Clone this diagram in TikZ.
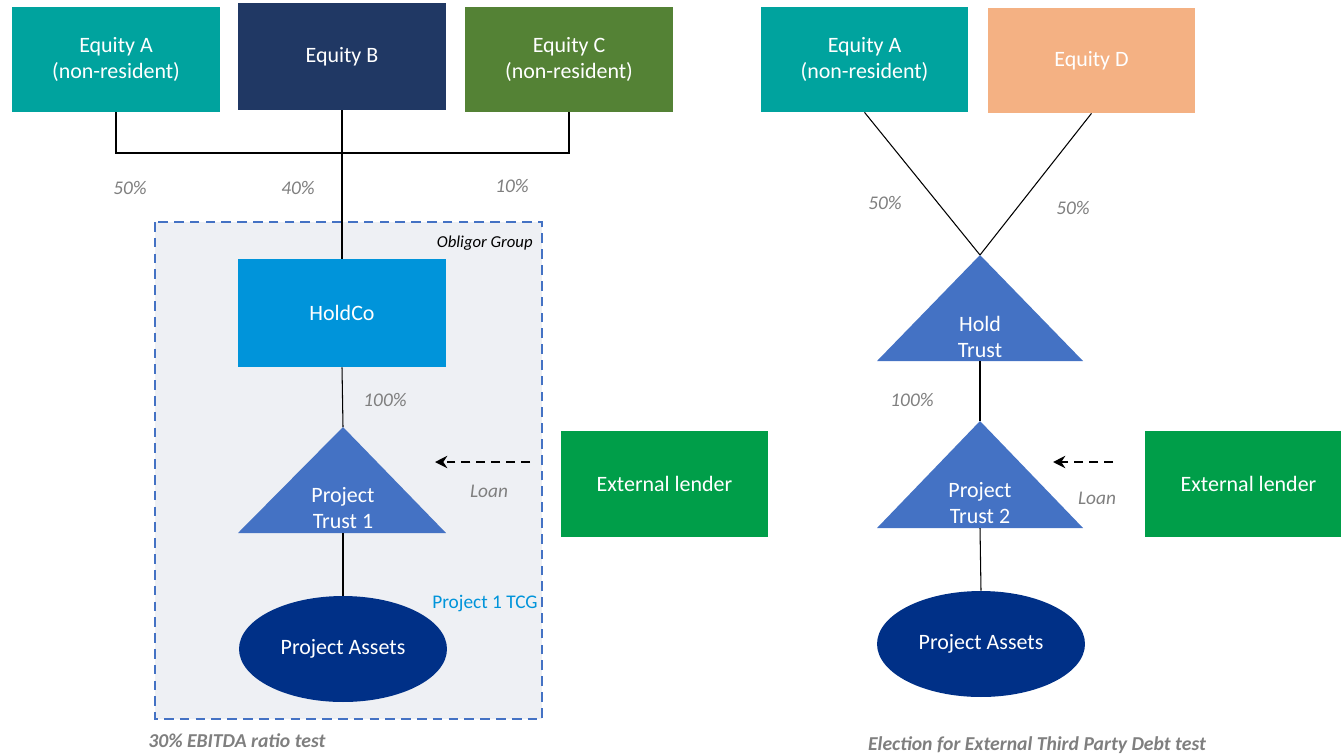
\documentclass[tikz,border=0pt]{standalone}
\usepackage{fontspec}
\setmainfont{Carlito}
\usepackage{tikz}
\usetikzlibrary{arrows.meta,positioning,shapes.geometric,calc}
\definecolor{eqteal}{HTML}{00A39E}
\definecolor{navy}{HTML}{203864}
\definecolor{eqgreen}{HTML}{548235}
\definecolor{peach}{HTML}{F4B183}
\definecolor{holdblue}{HTML}{0094DA}
\definecolor{trustblue}{HTML}{4472C4}
\definecolor{assetblue}{HTML}{003087}
\definecolor{lendgreen}{HTML}{009E49}
\definecolor{groupfill}{HTML}{EEF0F4}
\definecolor{pctgray}{HTML}{7F7F7F}
\begin{document}
\begin{tikzpicture}[x=0.02cm,y=-0.02cm,
  entity/.style={rectangle,inner sep=0pt,minimum width=4.16cm,minimum height=2.12cm,
    align=center,text=white,font=\fontsize{12.5}{15}\selectfont},
  asset/.style={ellipse,inner sep=0pt,minimum width=4.16cm,minimum height=2.12cm,
    fill=assetblue,text=white,font=\fontsize{12.5}{15}\selectfont},
  trilabel/.style={align=center,text=white,font=\fontsize{12.5}{15}\selectfont},
  pct/.style={text=pctgray,font=\fontsize{11}{13}\itshape},
  testlabel/.style={text=pctgray,inner sep=0pt,font=\fontsize{11.2}{13}\bfseries\itshape},
  link/.style={draw=black,line width=0.6pt},
  loan/.style={-{Stealth[length=7pt,width=7pt]},line width=1.1pt,dash pattern=on 5pt off 3.5pt}]
\clip (0,0) rectangle (1341,754);
% obligor group
\draw[fill=groupfill,draw=trustblue,line width=1.4pt,dash pattern=on 5.5pt off 3.5pt] (155,222) rectangle (542,719);
\node[anchor=east,inner sep=0pt,font=\fontsize{9.5}{11}\itshape] (oblig) at (533,243) {Obligor Group};
% left structure
\node[entity,fill=eqteal,minimum height=2.1cm] (eqA) at (116,59.5) {Equity A\\(non-resident)};
\node[entity,fill=navy,minimum height=2.14cm] (eqB) at (342,56.5) {Equity B};
\node[entity,fill=eqgreen,minimum height=2.1cm] (eqC) at (569,59.5) {Equity C\\(non-resident)};
\node[entity,fill=holdblue,minimum height=2.16cm] (hold) at (342,313) {HoldCo};
\fill[trustblue] (238,533) -- (343,427) -- (446,533) -- cycle;
\coordinate (pt1top) at (343,427);
\coordinate (pt1base) at (343,533);
\node[trilabel] (pt1) at (343,508) {Project\\Trust 1};
\node[asset] (pa1) at (343,649) {Project Assets};
\node[entity,fill=lendgreen,minimum width=4.14cm] (lend1) at (664.5,484) {External lender};
\coordinate (bus) at (343,153);
\draw[link] (eqA.south) -- (eqA.south |- bus) -| (eqC.south);
\draw[link] (eqB.south) -- (hold.north);
\draw[link] (hold.south) -- (pt1top);
\draw[link] (pt1base) -- (pa1.north);
\coordinate (loan1a) at (530,462);
\coordinate (loan1b) at (435,462);
\draw[loan] (loan1a) -- (loan1b);
\node[pct] (l1) at (489,491) {Loan};
\node[pct] (p50a) at (130,188) {50\%};
\node[pct] (p40) at (298,188) {40\%};
\node[pct] (p10) at (512,186) {10\%};
\node[pct] (p100a) at (385,400) {100\%};
\node[anchor=east,inner sep=0pt,text=holdblue,font=\fontsize{11}{13}\selectfont] (tcg) at (538,603) {Project 1 TCG};
\node[testlabel,anchor=west] (ebitda) at (148,741) {30\% EBITDA ratio test};
% right structure
\node[entity,fill=eqteal,minimum width=4.14cm,minimum height=2.1cm] (eqA2) at (864.5,59.5) {Equity A\\(non-resident)};
\node[entity,fill=peach,minimum width=4.14cm,minimum height=2.1cm] (eqD) at (1091.5,60.5) {Equity D};
\fill[trustblue] (877,361) -- (980,255) -- (1083,361) -- cycle;
\coordinate (httop) at (980,255);
\coordinate (htbase) at (980,361);
\node[trilabel] (ht) at (980,337) {Hold\\Trust};
\fill[trustblue] (877,528) -- (980,421) -- (1083,528) -- cycle;
\coordinate (pt2top) at (980,421);
\coordinate (pt2base) at (980,528);
\node[trilabel] (pt2) at (980,503) {Project\\Trust 2};
\node[asset] (pa2) at (981,644) {Project Assets};
\node[entity,fill=lendgreen,minimum width=4.14cm] (lend2) at (1248.5,484) {External lender};
\draw[link] (eqA2.south) -- (httop);
\draw[link] (eqD.south) -- (httop);
\draw[link] (htbase) -- (pt2top);
\draw[link] (pt2base) -- (pa2.north);
\coordinate (loan2a) at (1113,462);
\coordinate (loan2b) at (1053,462);
\draw[loan] (loan2a) -- (loan2b);
\node[pct] (l2) at (1097,498) {Loan};
\node[pct] (p50b) at (885,203) {50\%};
\node[pct] (p50c) at (1073,208) {50\%};
\node[pct] (p100b) at (912,400) {100\%};
\node[testlabel] (third) at (1037,745) {Election for External Third Party Debt test};
\end{tikzpicture}
\end{document}
